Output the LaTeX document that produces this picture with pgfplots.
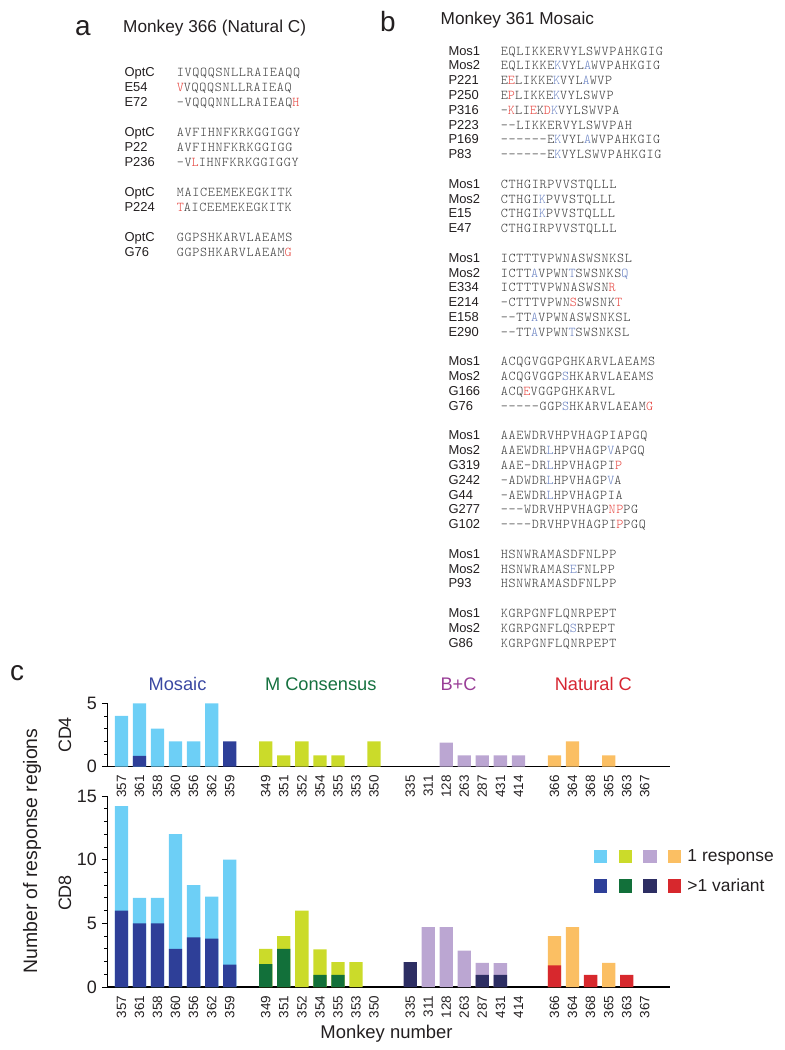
\documentclass[border=0pt]{standalone}
\usepackage{fontspec}
\setmainfont{Liberation Sans}
\newfontfamily\seqfont{lmmonolt10-regular.otf}[Ligatures=TeXOff, LetterSpace=5.1]
\usepackage{pgfplots}
\pgfplotsset{compat=1.18}

\definecolor{nameblack}{HTML}{231F20}
\definecolor{seqgray}{HTML}{3A3A3A}
\definecolor{hred}{HTML}{E5433D}
\definecolor{hblue}{HTML}{6A82C2}
\definecolor{lblue}{HTML}{6DCFF6}
\definecolor{dblue}{HTML}{2E3F98}
\definecolor{lgreen}{HTML}{CBDB2A}
\definecolor{dgreen}{HTML}{12703A}
\definecolor{lpurp}{HTML}{BBA6D2}
\definecolor{navy}{HTML}{2D2E63}
\definecolor{lorange}{HTML}{FBBF63}
\definecolor{dred}{HTML}{D7282D}
\definecolor{tmos}{HTML}{3A48A2}
\definecolor{tcons}{HTML}{15713F}
\definecolor{tbc}{HTML}{993E97}
\definecolor{tnat}{HTML}{D62631}

\newcommand{\R}[1]{\textcolor{hred}{#1}}
\newcommand{\B}[1]{\textcolor{hblue}{#1}}

\tikzset{
  nm/.style={anchor=base west, inner sep=0pt, text=nameblack, font=\fontsize{13}{15}\selectfont},
  sq/.style={anchor=base west, inner sep=0pt, text=seqgray, font=\seqfont\fontsize{13.5}{15}\selectfont},
}
% panel a row: index, name, sequence
\newcommand{\ra}[3]{\node[nm] at (124.3bp,{-(76.4+15*#1)*1bp}) {#2};
  \node[sq] at (176.7bp,{-(76.4+15*#1)*1bp}) {#3};}
% panel b row
\newcommand{\rb}[3]{\node[nm] at (448.3bp,{-(55+14.8*#1)*1bp}) {#2};
  \node[sq] at (500.7bp,{-(55+14.8*#1)*1bp}) {#3};}

\pgfplotsset{
  pc/.style={
    scale only axis, width=563bp, xmin=-0.8, xmax=30.4, ymin=0,
    axis lines=left, axis line style={-, black},
    x axis line style={line width=1.4bp},
    y axis line style={line width=0.8bp},
    ybar, bar width=13.3bp,
    every axis plot post/.append style={bar shift=0pt, draw=none},
    xtick={0,1,2,3,4,5,6,8,9,10,11,12,13,14,16,17,18,19,20,21,22,24,25,26,27,28,29},
    xticklabels={357,361,358,360,356,362,359,349,351,352,354,355,353,350,335,311,128,263,287,431,414,366,364,368,365,363,367},
    xtick style={draw=none},
    xticklabel style={yshift=-3.5bp, rotate=90, anchor=east, inner sep=0pt, text=nameblack, font=\fontsize{13.5}{14}\selectfont},
    ytick style={line width=0.8bp, black},
    tick align=outside, major tick length=5bp, minor tick length=3bp,
    yticklabel style={inner sep=0pt, xshift=-5bp, text=nameblack, font=\fontsize{18}{20}\selectfont},
    /pgf/number format/assume math mode=true,
    clip=false,
  },
  sqleg/.style={legend image code/.code={\fill[#1] (0bp,-6.7bp) rectangle (13.4bp,6.7bp);}},
}

\begin{document}
\begin{tikzpicture}
\path[use as bounding box] (0,0) rectangle (785bp,-1050bp);

% ---------- panel a ----------
\node[anchor=base west, inner sep=0pt, text=nameblack, font=\fontsize{28}{30}\selectfont] at (75bp,-35bp) {a};
\node[anchor=base west, inner sep=0pt, text=nameblack, font=\fontsize{17.3}{19}\selectfont] at (123bp,-32bp) {Monkey 366 (Natural C)};
\ra{0}{OptC}{IVQQQSNLLRAIEAQQ}
\ra{1}{E54}{\R{V}VQQQSNLLRAIEAQ}
\ra{2}{E72}{-VQQQNNLLRAIEAQ\R{H}}
\ra{4}{OptC}{AVFIHNFKRKGGIGGY}
\ra{5}{P22}{AVFIHNFKRKGGIGG}
\ra{6}{P236}{-V\R{L}IHNFKRKGGIGGY}
\ra{8}{OptC}{MAICEEMEKEGKITK}
\ra{9}{P224}{\R{T}AICEEMEKEGKITK}
\ra{11}{OptC}{GGPSHKARVLAEAMS}
\ra{12}{G76}{GGPSHKARVLAEAM\R{G}}

% ---------- panel b ----------
\node[anchor=base west, inner sep=0pt, text=nameblack, font=\fontsize{28}{30}\selectfont] at (380bp,-31.7bp) {b};
\node[anchor=base west, inner sep=0pt, text=nameblack, font=\fontsize{17.3}{19}\selectfont] at (440.5bp,-24bp) {Monkey 361 Mosaic};
\rb{0}{Mos1}{EQLIKKERVYLSWVPAHKGIG}
\rb{1}{Mos2}{EQLIKKE\B{K}VYL\B{A}WVPAHKGIG}
\rb{2}{P221}{E\R{E}LIKKE\B{K}VYL\B{A}WVP}
\rb{3}{P250}{E\R{P}LIKKE\B{K}VYLSWVP}
\rb{4}{P316}{-\R{K}LI\R{E}K\R{D}\B{K}VYLSWVPA}
\rb{5}{P223}{--LIKKERVYLSWVPAH}
\rb{6}{P169}{------E\B{K}VYL\B{A}WVPAHKGIG}
\rb{7}{P83}{------E\B{K}VYLSWVPAHKGIG}
\rb{9}{Mos1}{CTHGIRPVVSTQLLL}
\rb{10}{Mos2}{CTHGI\B{K}PVVSTQLLL}
\rb{11}{E15}{CTHGI\B{K}PVVSTQLLL}
\rb{12}{E47}{CTHGIRPVVSTQLLL}
\rb{14}{Mos1}{ICTTTVPWNASWSNKSL}
\rb{15}{Mos2}{ICTT\B{A}VPWN\B{T}SWSNKS\B{Q}}
\rb{16}{E334}{ICTTTVPWNASWSN\R{R}}
\rb{17}{E214}{-CTTTVPWN\R{S}SWSNK\R{T}}
\rb{18}{E158}{--TT\B{A}VPWNASWSNKSL}
\rb{19}{E290}{--TT\B{A}VPWN\B{T}SWSNKSL}
\rb{21}{Mos1}{ACQGVGGPGHKARVLAEAMS}
\rb{22}{Mos2}{ACQGVGGP\B{S}HKARVLAEAMS}
\rb{23}{G166}{ACQ\R{E}VGGPGHKARVL}
\rb{24}{G76}{-----GGP\B{S}HKARVLAEAM\R{G}}
\rb{26}{Mos1}{AAEWDRVHPVHAGPIAPGQ}
\rb{27}{Mos2}{AAEWDR\B{L}HPVHAGP\B{V}APGQ}
\rb{28}{G319}{AAE-DR\B{L}HPVHAGPI\R{P}}
\rb{29}{G242}{-ADWDR\B{L}HPVHAGP\B{V}A}
\rb{30}{G44}{-AEWDR\B{L}HPVHAGPIA}
\rb{31}{G277}{---WDRVHPVHAGP\R{NP}PG}
\rb{32}{G102}{----DRVHPVHAGPI\R{P}PGQ}
\rb{34}{Mos1}{HSNWRAMASDFNLPP}
\rb{35}{Mos2}{HSNWRAMAS\B{E}FNLPP}
\rb{36}{P93}{HSNWRAMASDFNLPP}
\rb{38}{Mos1}{KGRPGNFLQNRPEPT}
\rb{39}{Mos2}{KGRPGNFLQ\B{S}RPEPT}
\rb{40}{G86}{KGRPGNFLQNRPEPT}

% ---------- panel c texts ----------
\node[anchor=base west, inner sep=0pt, text=nameblack, font=\fontsize{28}{30}\selectfont] at (10bp,-680bp) {c};
\node[anchor=base, inner sep=0pt, text=tmos, font=\fontsize{18.3}{20}\selectfont] at (177.5bp,-690bp) {Mosaic};
\node[anchor=base, inner sep=0pt, text=tcons, font=\fontsize{18.3}{20}\selectfont] at (320.8bp,-690bp) {M Consensus};
\node[anchor=base, inner sep=0pt, text=tbc, font=\fontsize{18.3}{20}\selectfont] at (458.5bp,-690bp) {B+C};
\node[anchor=base, inner sep=0pt, text=tnat, font=\fontsize{18.3}{20}\selectfont] at (593.3bp,-690bp) {Natural C};
\node[rotate=90, inner sep=0pt, text=nameblack, font=\fontsize{18}{20}\selectfont] at (65bp,-735bp) {CD4};
\node[rotate=90, inner sep=0pt, text=nameblack, font=\fontsize{18}{20}\selectfont] at (65bp,-893bp) {CD8};
\node[rotate=90, inner sep=0pt, text=nameblack, font=\fontsize{19.5}{21}\selectfont] at (32bp,-851bp) {Number of response regions};
\node[anchor=base, inner sep=0pt, text=nameblack, font=\fontsize{18.5}{20}\selectfont] at (386.5bp,-1038bp) {Monkey number};

% ---------- CD4 axis ----------
\begin{axis}[pc, at={(107bp,-766.7bp)}, anchor=south west, height=63.4bp, ymax=5,
  ytick={0,5}, minor ytick={1,2,3,4}]
\addplot[fill=lblue] coordinates {(0,4) (1,5) (2,3) (3,2) (4,2) (5,5)};
\addplot[fill=dblue] coordinates {(1,0.85) (6,2)};
\addplot[fill=lgreen] coordinates {(8,2) (9,0.9) (10,2) (11,0.9) (12,0.9) (14,2)};
\addplot[fill=lpurp] coordinates {(18,1.9) (19,0.9) (20,0.9) (21,0.9) (22,0.9)};
\addplot[fill=lorange] coordinates {(24,0.9) (25,2) (27,0.9)};
\end{axis}

% ---------- CD8 axis ----------
\begin{axis}[pc, at={(107bp,-987bp)}, anchor=south west, height=191bp, ymax=15,
  ytick={0,5,10,15}, minor ytick={1,2,3,4,6,7,8,9,11,12,13,14},
  legend columns=4, legend cell align=left,
  legend style={at={(rel axis cs:0.865,0.72)}, anchor=north west, draw=none, fill=none,
    inner sep=0pt, outer sep=0pt, text=nameblack, font=\fontsize{17.5}{18}\selectfont,
    row sep=16bp, column sep=0pt,
    /tikz/every odd column/.append style={column sep=6bp},
    /tikz/every even column/.append style={column sep=4.3bp},
    nodes={inner sep=0pt}},
  ]
\addlegendimage{sqleg=lblue}\addlegendentry{\mbox{}}
\addlegendimage{sqleg=lgreen}\addlegendentry{\mbox{}}
\addlegendimage{sqleg=lpurp}\addlegendentry{\mbox{}}
\addlegendimage{sqleg=lorange}\addlegendentry{1 response}
\addlegendimage{sqleg=dblue}\addlegendentry{\mbox{}}
\addlegendimage{sqleg=dgreen}\addlegendentry{\mbox{}}
\addlegendimage{sqleg=navy}\addlegendentry{\mbox{}}
\addlegendimage{sqleg=dred}\addlegendentry{>1 variant}
% totals (light) first, then dark portions on top
\addplot[fill=lblue, forget plot] coordinates {(0,14.2) (1,7) (2,7) (3,12) (4,8) (5,7.1) (6,10)};
\addplot[fill=dblue, forget plot] coordinates {(0,6) (1,5) (2,5) (3,3) (4,3.9) (5,3.8) (6,1.75)};
\addplot[fill=lgreen, forget plot] coordinates {(8,3) (9,4) (10,6) (11,2.95) (12,1.95) (13,1.95)};
\addplot[fill=dgreen, forget plot] coordinates {(8,1.8) (9,3) (11,0.95) (12,0.95)};
\addplot[fill=lpurp, forget plot] coordinates {(17,4.7) (18,4.7) (19,2.85) (20,1.9) (21,1.87)};
\addplot[fill=navy, forget plot] coordinates {(16,1.95) (20,0.95) (21,0.95)};
\addplot[fill=lorange, forget plot] coordinates {(24,4) (25,4.7) (27,1.9)};
\addplot[fill=dred, forget plot] coordinates {(24,1.7) (26,0.95) (28,0.95)};
\end{axis}
\end{tikzpicture}
\end{document}
